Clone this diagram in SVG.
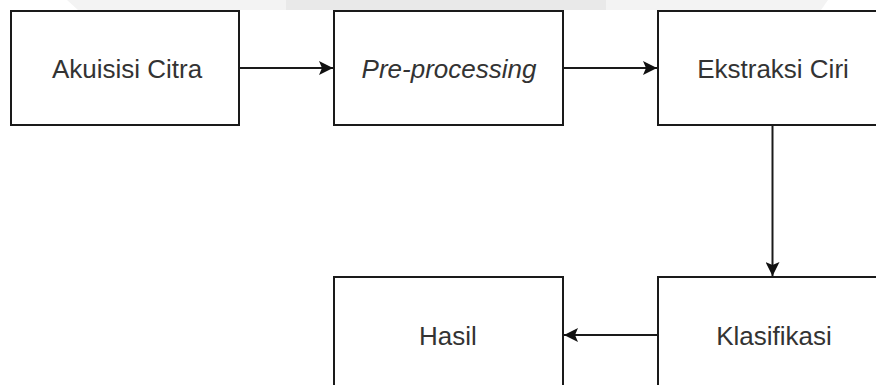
<svg xmlns="http://www.w3.org/2000/svg" width="876" height="385" viewBox="0 0 876 385">
  <defs>
    <marker id="arrow" viewBox="0 0 14 14" refX="14" refY="7" markerWidth="14" markerHeight="14" markerUnits="userSpaceOnUse" orient="auto">
      <path d="M0,0 L14,7 L0,14 L3,7 Z" fill="#111"/>
    </marker>
  </defs>
  <style>
    .box { fill: #fff; stroke: #1a1a1a; stroke-width: 2; }
    .label { font-family: "Liberation Sans", Arial, sans-serif; font-size: 26px; fill: #333; text-anchor: middle; }
    .edge { fill: none; stroke: #1a1a1a; stroke-width: 2; marker-end: url(#arrow); }
  </style>
  <rect width="876" height="385" fill="#fff"/>
  <!-- faint header band -->
  <g id="header-band">
    <polygon points="67,0 828,0 821,10 78,10" fill="#f3f3f3"/>
    <rect x="286" y="0" width="320" height="10" fill="#e9e9e9"/>
  </g>
  <g id="akuisisi">
    <rect class="box" x="11" y="11" width="228" height="114"/>
    <text class="label" x="127" y="78">Akuisisi Citra</text>
  </g>
  <g id="preprocessing">
    <rect class="box" x="334" y="11" width="229" height="114"/>
    <text class="label" x="449" y="78" font-style="italic">Pre-processing</text>
  </g>
  <g id="ekstraksi">
    <rect class="box" x="658" y="11" width="229" height="114"/>
    <text class="label" x="773" y="78">Ekstraksi Ciri</text>
  </g>
  <g id="hasil">
    <rect class="box" x="334" y="277" width="229" height="120"/>
    <text class="label" x="448" y="345">Hasil</text>
  </g>
  <g id="klasifikasi">
    <rect class="box" x="658" y="277" width="229" height="120"/>
    <text class="label" x="774" y="345">Klasifikasi</text>
  </g>
  <g id="connectors">
    <line class="edge" x1="239" y1="68" x2="333" y2="68"/>
    <line class="edge" x1="563" y1="68" x2="657" y2="68"/>
    <line class="edge" x1="772.5" y1="125" x2="772.5" y2="276"/>
    <line class="edge" x1="658" y1="335" x2="564" y2="335"/>
  </g>
</svg>
